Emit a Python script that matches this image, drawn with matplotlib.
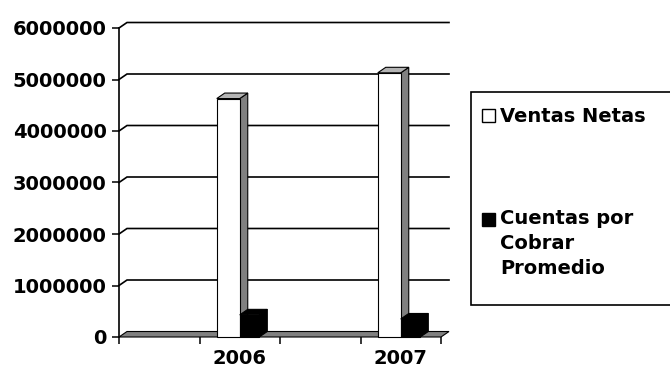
import matplotlib
matplotlib.use("Agg")
import matplotlib.pyplot as plt
from matplotlib.patches import Polygon, Rectangle

categories = ["", "2006", "", "2007"]
ventas_netas = [0, 4630000, 0, 5130000]
cuentas_cobrar = [0, 430000, 0, 350000]
series_names = ["Ventas Netas", "Cuentas por\nCobrar\nPromedio"]
y_ticks = [0, 1000000, 2000000, 3000000, 4000000, 5000000, 6000000]

W, H = 670, 373
plt.rcParams['font.family'] = ['DejaVu Sans']
plt.rcParams['font.weight'] = 'bold'

fig = plt.figure(figsize=(W / 100, H / 100), dpi=100)

# front plane of the plot in pixels
left, right, bottom, top = 119, 441, 337, 28
ax = fig.add_axes([left / W, (H - bottom) / H, (right - left) / W, (bottom - top) / H])
ax.set_xlim(0, len(categories))
ax.set_ylim(0, 6000000)

# 3d depth offset (pixels -> data)
px_x = len(categories) / (right - left)
px_y = 6000000 / (bottom - top)
dx = 8 * px_x
dy = 5.5 * px_y

# back wall gridlines
for v in y_ticks[1:]:
    ax.plot([0, dx, len(categories) + dx], [v, v + dy, v + dy], color='black', lw=1.2,
            clip_on=False, zorder=1, solid_joinstyle='miter')

# floor
n = len(categories)
ax.add_patch(Polygon([(0, 0), (n, 0), (n + dx, dy), (dx, dy)], closed=True,
                     facecolor='#808080', edgecolor='black', lw=0.8, clip_on=False, zorder=2))


def bar3d(x0, w, h, face, side, topc, z):
    ax.add_patch(Polygon([(x0 + w, 0), (x0 + w + dx, dy), (x0 + w + dx, h + dy), (x0 + w, h)],
                         closed=True, facecolor=side, edgecolor='black', lw=0.8, clip_on=False, zorder=z))
    ax.add_patch(Polygon([(x0, h), (x0 + w, h), (x0 + w + dx, h + dy), (x0 + dx, h + dy)],
                         closed=True, facecolor=topc, edgecolor='black', lw=0.8, clip_on=False, zorder=z))
    ax.add_patch(Rectangle((x0, 0), w, h, facecolor=face, edgecolor='black', lw=0.8,
                           clip_on=False, zorder=z + 0.5))


bw = 1 / 3.5
for i in range(n):
    c = i + 0.5
    if ventas_netas[i] > 0:
        bar3d(c - bw, bw, ventas_netas[i], 'white', '#808080', '#b4b4b4', 3)
    if cuentas_cobrar[i] > 0:
        bar3d(c, bw * 0.85, cuentas_cobrar[i], 'black', 'black', 'black', 4)

for s in ['top', 'right', 'bottom']:
    ax.spines[s].set_visible(False)
ax.spines['left'].set_linewidth(1.2)
ax.spines['left'].set_zorder(5)

ax.set_yticks(y_ticks)
ax.set_yticklabels([str(v) for v in y_ticks])
ax.tick_params(axis='y', direction='out', length=5, width=1.1, pad=4, labelsize=14)

ax.set_xticks(range(n + 1))
ax.set_xticklabels([])
ax.set_xticks([i + 0.5 for i in range(n)], minor=True)
ax.set_xticklabels(categories, minor=True)
ax.tick_params(axis='x', which='major', direction='out', length=5, width=1.1)
ax.tick_params(axis='x', which='minor', length=0, pad=9, labelsize=14)
for lab in ax.get_xticklabels(minor=True) + ax.get_yticklabels():
    lab.set_fontweight('bold')

# legend drawn in pixel space
lg = fig.add_axes([0, 0, 1, 1])
lg.set_xlim(0, W)
lg.set_ylim(H, 0)
lg.axis('off')
lg.patch.set_alpha(0)
lg.add_patch(Rectangle((471, 92), 230, 213, facecolor='white', edgecolor='black', lw=1.2))
lg.add_patch(Rectangle((482, 109), 13, 13, facecolor='white', edgecolor='black', lw=1))
lg.add_patch(Rectangle((482, 213), 13, 13, facecolor='black', edgecolor='black', lw=1))
lg.text(500, 116, series_names[0], fontsize=14, fontweight='bold', va='center', ha='left')
lg.text(500, 209, series_names[1], fontsize=14, fontweight='bold', va='top', ha='left',
        linespacing=1.4)

fig.savefig("out.png", dpi=100)
